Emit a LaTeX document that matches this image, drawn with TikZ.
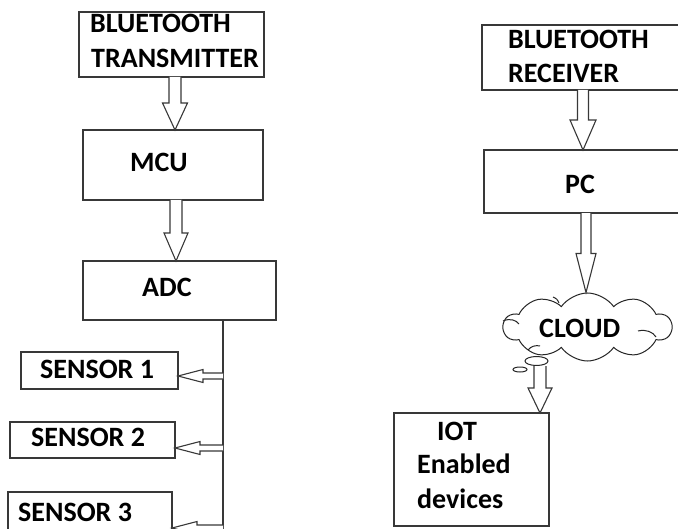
\documentclass[tikz,border=0pt]{standalone}
\usepackage{fontspec}
\setmainfont{Carlito}
\usetikzlibrary{calc,shapes.symbols,shapes.geometric}
\newcommand\varrow[6]{% x, shaft half, head half, head length, from, to
  \draw[blk] let \p1=(#5.south), \p2=(#6.north) in
    (#1bp-#2bp,\y1) -- (#1bp-#2bp,\y2+#4bp) -- (#1bp-#3bp,\y2+#4bp) -- (#1bp,\y2)
    -- (#1bp+#3bp,\y2+#4bp) -- (#1bp+#2bp,\y2+#4bp) -- (#1bp+#2bp,\y1);}
\newcommand\harrow[2]{% from coordinate, to node (leftwards)
  \draw[blk] let \p1=(#1), \p2=(#2.east) in
    (\x1,\y1+3bp) -- (\x2+25bp,\y1+3bp) -- (\x2+25bp,\y1+6.5bp) -- (\x2,\y1)
    -- (\x2+25bp,\y1-6.5bp) -- (\x2+25bp,\y1-3bp) -- (\x1,\y1-3bp);}
\tikzset{
  box/.style={draw=black!78, line width=1.3bp, fill=white, inner sep=0pt, outer sep=0pt, anchor=north west},
  txt/.style={inner sep=0pt, anchor=base west, font=\fontsize{28bp}{34bp}\selectfont\bfseries},
  blk/.style={draw=black!78, line width=1.1bp, fill=white, line join=miter},
  wire/.style={draw=black!78, line width=1.3bp},
  cl/.style={draw=black!85, line width=1bp},
}
\begin{document}
\begin{tikzpicture}[x=1bp,y=-1bp]
\fill[white] (0,0) rectangle (678,529);
\useasboundingbox (0,0) rectangle (678,529);
% left column boxes
\node[box, minimum width=185bp, minimum height=65bp] (bt) at (79,12) {};
\node[box, minimum width=180bp, minimum height=70bp] (mcu) at (83,130) {};
\node[box, minimum width=193bp, minimum height=59bp] (adc) at (83,261) {};
\node[box, minimum width=157bp, minimum height=37bp] (s1) at (21,352) {};
\node[box, minimum width=165bp, minimum height=36bp] (s2) at (10,422) {};
\node[box, minimum width=164bp, minimum height=48bp] (s3) at (8,492) {};
% right column boxes
\node[box, minimum width=210bp, minimum height=65bp] (btr) at (482,25) {};
\node[box, minimum width=210bp, minimum height=63bp] (pc) at (484,150) {};
\node[box, minimum width=155bp, minimum height=113bp] (iot) at (394,413) {};
\node[cl, fill=white, shape=cloud, cloud puffs=10, cloud puff arc=110, cloud ignores aspect,
      minimum width=168bp, minimum height=68bp, inner sep=0pt] (cloud) at (587.5,327) {};
% inner strokes of the cloud
\draw[cl] (503,321) .. controls (510,318) and (516,320) .. (519,324);
\draw[cl] (638,331) .. controls (646,329) and (653,332) .. (656,337);
\draw[cl] (528,350) .. controls (531,346) and (536,345) .. (540,346);
\draw[cl] (553,297) .. controls (557,299) .. (559,303);
\node[cl, fill=white, ellipse, minimum width=23bp, minimum height=9bp, inner sep=0pt] (bub1) at (536.5,361) {};
\node[cl, fill=white, ellipse, minimum width=14bp, minimum height=5bp, inner sep=0pt] (bub2) at (520,369.5) {};
% texts
\node[txt] (t1) at (90,33) {BLUETOOTH};
\node[txt] (t2) at (91,68) {TRANSMITTER};
\node[txt] (t3) at (130,172) {MCU};
\node[txt] (t4) at (142,296) {ADC};
\node[txt] (t5) at (40,378) {SENSOR 1};
\node[txt] (t6) at (31,446) {SENSOR 2};
\node[txt] (t7) at (18,521) {SENSOR 3};
\node[txt] (t8) at (508,49) {BLUETOOTH};
\node[txt] (t9) at (508,83) {RECEIVER};
\node[txt] (t10) at (565,194) {PC};
\node[txt] (t11) at (539,337) {CLOUD};
\node[txt] (t12) at (437,440) {IOT};
\node[txt] (t13) at (417,473) {Enabled};
\node[txt] (t14) at (417,508) {devices};
% vertical arrows
\varrow{175}{6}{12.5}{27}{bt}{mcu}
\varrow{176}{6}{12}{28}{mcu}{adc}
\varrow{583}{5.5}{13}{30}{btr}{pc}
\varrow{586}{5}{10}{39}{pc}{cloud}
\varrow{540}{6}{12}{25}{bub1}{iot}
% bus line and sensor arrows
\coordinate (bend) at (223,540);
\coordinate (j1) at (223,376);
\coordinate (j2) at (223,448);
\coordinate (j3) at (223,528);
\draw[wire] (adc.south -| bend) -- (bend);
\harrow{j1}{s1}
\harrow{j2}{s2}
\harrow{j3}{s3}
\end{tikzpicture}
\end{document}
